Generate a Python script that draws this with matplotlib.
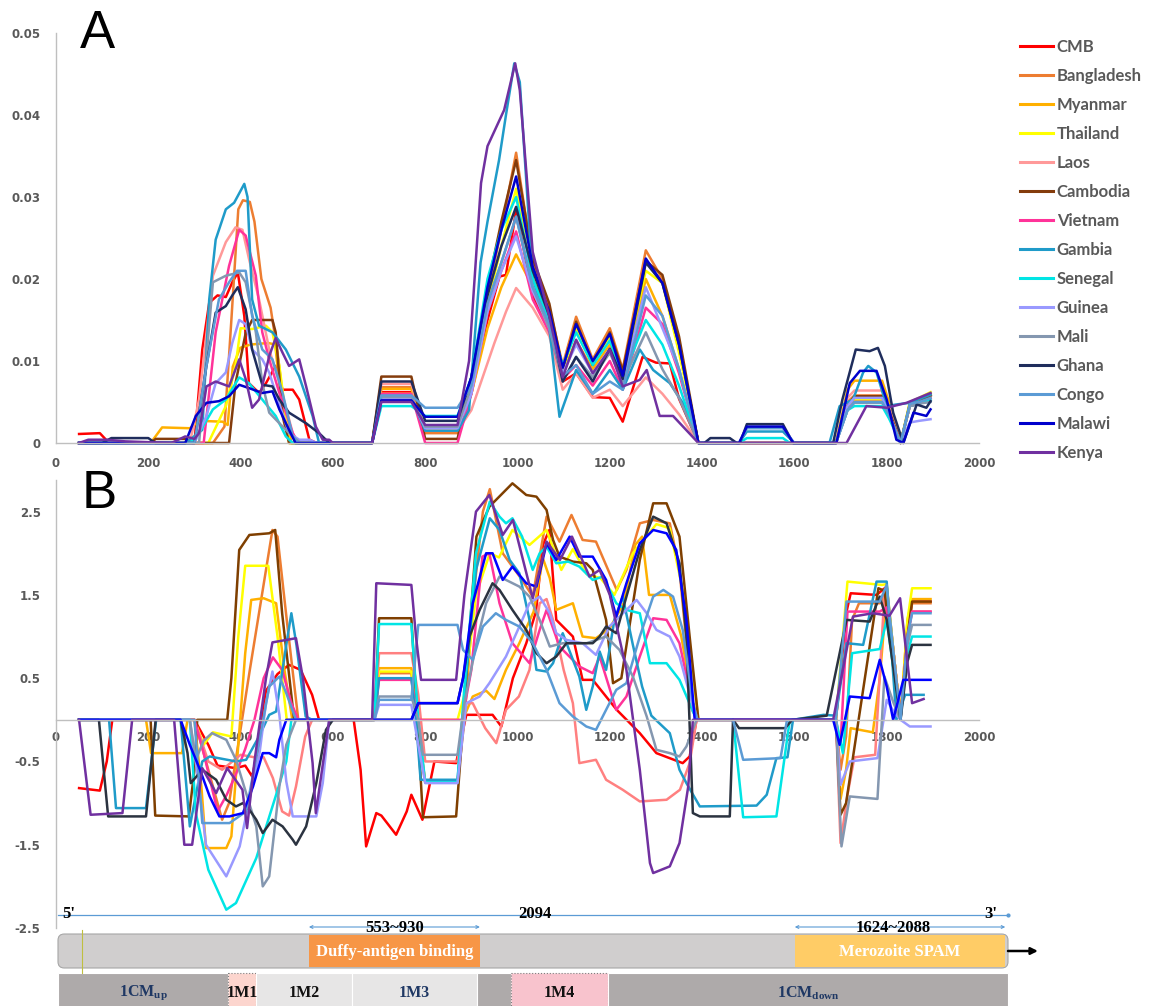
import matplotlib
matplotlib.use('Agg')
import matplotlib.pyplot as plt
from matplotlib.lines import Line2D
from matplotlib.patches import Rectangle, FancyBboxPatch

plt.rcParams['font.family'] = 'DejaVu Sans'
plt.rcParams['mathtext.fontset'] = 'custom'
plt.rcParams['mathtext.rm'] = 'Liberation Serif:bold'
plt.rcParams['mathtext.bf'] = 'Liberation Serif:bold'

# ── populations and colours ───────────────────────────────────────────────
NAMES = ['CMB', 'Bangladesh', 'Myanmar', 'Thailand', 'Laos', 'Cambodia',
         'Vietnam', 'Gambia', 'Senegal', 'Guinea', 'Mali', 'Ghana', 'Congo',
         'Malawi', 'Kenya']
COLORS_A = ['#FF0000', '#ED7D31', '#FFB000', '#FFFF00', '#FF9999', '#843C0C',
            '#FF3399', '#1F9BC9', '#00E5E5', '#9999FF', '#8497B0', '#1F2D5C',
            '#5B9BD5', '#0000CC', '#7030A0']
COLORS_B = ['#FF0000', '#ED7D31', '#FFB000', '#FFFF00', '#FF8080', '#7F3F00',
            '#FF3399', '#1F9BC9', '#00E5E5', '#9999FF', '#8497B0', '#2B3340',
            '#5B9BD5', '#0000FF', '#7030A0']

# ── panel A: (position, value) ────────────────────────────────────────────
A_CMB = [(50,.0011),(95,.0012),(110,.0003),(150,0),(300,0),(317,.0114),(332,.0171),(350,.018),(368,.0178),(382,.0196),(394,.0208),(408,.0155),(418,.0073),(440,.0061),(455,.0073),(476,.0094),(491,.0065),(513,.0065),(527,.0053),(549,.0004),(565,0),(685,0),(705,.0062),(770,.0062),(800,.0016),(870,.0016),(900,.006),(935,.015),(961,.0203),(975,.0205),(997,.0284),(1033,.018),(1069,.014),(1098,.0075),(1127,.0085),(1163,.0056),(1200,.0055),(1228,.0026),(1271,.0105),(1300,.0098),(1330,.0097),(1350,.0054),(1392,0),(1690,0),(1715,.0045),(1730,.0053),(1790,.0053),(1805,.0035),(1830,0),(1850,.0045),(1870,.0048),(1895,.0058)]
A_BANGLADESH = [(50,0),(340,0),(365,.002),(380,.015),(395,.0285),(405,.0296),(420,.0294),(430,.027),(445,.02),(465,.0165),(480,.011),(495,.004),(510,0),(685,0),(705,.0068),(770,.0068),(800,.0012),(870,.0012),(900,.007),(935,.018),(965,.026),(997,.0354),(1033,.022),(1069,.0165),(1098,.0095),(1127,.0154),(1163,.0102),(1200,.014),(1228,.009),(1278,.0235),(1314,.02),(1350,.012),(1392,0),(1690,0),(1715,.005),(1730,.0058),(1790,.0058),(1805,.004),(1830,0),(1850,.0045),(1870,.005),(1895,.0057)]
A_MYANMAR = [(50,0),(205,0),(230,.0019),(290,.0018),(311,.0027),(361,.0026),(372,.0022),(383,.0093),(399,.0116),(421,.012),(460,.0122),(475,.012),(490,.004),(510,0),(685,0),(705,.0066),(770,.0066),(800,.0015),(870,.0015),(900,.006),(935,.014),(965,.019),(997,.023),(1033,.019),(1069,.0145),(1098,.0085),(1127,.0125),(1163,.009),(1200,.012),(1228,.008),(1278,.02),(1314,.0155),(1350,.009),(1392,0),(1690,0),(1715,.0065),(1730,.0076),(1790,.0076),(1805,.005),(1830,0),(1850,.0048),(1870,.0052),(1895,.006)]
A_THAILAND = [(50,0),(330,0),(368,.0045),(389,.0094),(400,.014),(425,.0139),(455,.0143),(469,.0135),(484,.0094),(498,.0033),(505,0),(685,0),(705,.006),(770,.006),(800,.0016),(870,.0016),(900,.007),(935,.017),(965,.024),(997,.031),(1033,.02),(1069,.0155),(1098,.0088),(1127,.014),(1163,.0098),(1200,.013),(1228,.0085),(1278,.021),(1314,.0195),(1350,.011),(1392,0),(1690,0),(1715,.0045),(1730,.0053),(1790,.0053),(1805,.0035),(1830,0),(1850,.005),(1870,.0055),(1895,.0062)]
A_LAOS = [(50,0),(290,0),(310,.0053),(340,.0204),(368,.0245),(389,.0263),(404,.026),(418,.0225),(440,.0175),(462,.0114),(484,.0073),(513,.0012),(525,0),(685,0),(705,.0072),(770,.0072),(800,.0015),(870,.0015),(900,.004),(950,.0122),(975,.016),(997,.0189),(1033,.0165),(1069,.013),(1098,.0065),(1127,.0085),(1163,.0055),(1200,.0065),(1228,.0045),(1278,.008),(1314,.006),(1350,.0035),(1392,0),(1690,0),(1715,.0055),(1730,.0064),(1790,.0064),(1805,.0045),(1830,0),(1850,.0045),(1870,.005),(1895,.0055)]
A_CAMBODIA = [(50,0),(205,0),(216,.0005),(281,.0005),(295,0),(375,0),(389,.0073),(411,.0134),(425,.015),(469,.015),(476,.0135),(491,.0033),(505,0),(685,0),(705,.0081),(770,.0081),(800,.0005),(870,.0005),(900,.008),(935,.019),(965,.027),(997,.0345),(1033,.0225),(1069,.017),(1098,.009),(1127,.0148),(1163,.0095),(1200,.0135),(1228,.0088),(1278,.0222),(1314,.0205),(1350,.013),(1392,0),(1690,0),(1715,.0045),(1730,.0057),(1790,.0057),(1805,.004),(1830,0),(1850,.0047),(1870,.005),(1895,.0058)]
A_VIETNAM = [(50,0),(320,0),(346,.0135),(375,.0216),(397,.026),(411,.0253),(433,.0204),(447,.0135),(462,.0102),(484,.0061),(513,.0012),(525,0),(685,0),(705,.006),(770,.006),(800,0),(870,0),(900,.006),(935,.016),(965,.021),(997,.0258),(1033,.0175),(1069,.0135),(1098,.0078),(1127,.0095),(1163,.007),(1200,.01),(1228,.0065),(1278,.0165),(1314,.0145),(1350,.0085),(1392,0),(1690,0),(1715,.004),(1730,.005),(1790,.005),(1805,.0035),(1830,0),(1850,.0045),(1870,.0048),(1895,.0054)]
A_GAMBIA = [(50,0),(281,0),(317,.0016),(332,.0175),(346,.0248),(368,.0285),(386,.0293),(408,.0316),(415,.03),(425,.0175),(440,.0143),(469,.0135),(498,.0114),(527,.0081),(556,.0033),(570,0),(685,0),(705,.0055),(770,.0055),(800,.0015),(870,.0015),(895,.004),(920,.022),(935,.027),(960,.0345),(975,.04),(993,.0463),(1005,.044),(1033,.02),(1069,.014),(1091,.0032),(1127,.0089),(1163,.006),(1200,.0089),(1228,.0065),(1265,.0114),(1294,.0089),(1330,.0073),(1358,.0049),(1392,0),(1480,0),(1497,.0014),(1575,.0014),(1600,0),(1676,0),(1698,.0045),(1727,.0053),(1749,.0086),(1760,.0094),(1778,.0086),(1800,.0045),(1821,.0047),(1850,.0049),(1895,.0059)]
A_SENEGAL = [(50,0),(290,0),(310,.0012),(340,.0041),(368,.0053),(397,.008),(418,.0073),(447,.0053),(476,.0033),(498,.0008),(513,0),(685,0),(705,.0045),(770,.0045),(800,.0033),(870,.0033),(900,.008),(935,.02),(965,.026),(997,.03),(1033,.02),(1069,.015),(1098,.0095),(1127,.0135),(1163,.0095),(1200,.0125),(1228,.008),(1278,.015),(1314,.012),(1350,.007),(1392,0),(1480,0),(1497,.0006),(1575,.0006),(1590,0),(1690,0),(1715,.004),(1730,.0045),(1790,.0045),(1805,.003),(1830,0),(1850,.0045),(1870,.0048),(1895,.0052)]
A_GUINEA = [(50,0),(300,0),(326,.0033),(346,.0073),(368,.0086),(382,.0122),(397,.015),(411,.0145),(425,.0114),(447,.0102),(462,.0086),(476,.0061),(505,.0012),(527,.0004),(549,.0004),(565,0),(685,0),(705,.0054),(770,.0054),(800,.0018),(870,.0018),(900,.006),(935,.016),(965,.021),(997,.0252),(1033,.0185),(1069,.014),(1098,.0085),(1127,.012),(1163,.0085),(1200,.0115),(1228,.0075),(1278,.019),(1314,.014),(1350,.009),(1392,0),(1690,0),(1715,.0045),(1730,.0055),(1790,.0055),(1805,.0035),(1830,0),(1850,.0025),(1870,.0027),(1895,.0029)]
A_MALI = [(50,0),(310,0),(340,.0196),(368,.0204),(397,.0208),(411,.0196),(433,.0135),(447,.0073),(462,.0037),(491,.002),(513,.0008),(530,0),(685,0),(705,.0056),(770,.0056),(800,.002),(870,.002),(900,.007),(935,.017),(965,.022),(997,.0276),(1033,.019),(1069,.014),(1098,.0075),(1127,.0105),(1163,.008),(1200,.011),(1228,.0075),(1278,.0135),(1314,.009),(1350,.0055),(1392,0),(1690,0),(1715,.004),(1730,.0049),(1790,.0049),(1805,.0035),(1830,0),(1850,.0045),(1870,.0048),(1895,.005)]
A_GHANA = [(50,0),(100,0),(120,.0006),(200,.0006),(215,0),(300,0),(326,.0094),(346,.0159),(368,.0167),(382,.018),(394,.019),(411,.0163),(425,.0114),(447,.0071),(469,.0069),(484,.0053),(505,.0037),(542,.0024),(570,.0012),(592,0),(685,0),(705,.0075),(770,.0075),(800,.0027),(870,.0027),(900,.008),(935,.018),(965,.024),(997,.0288),(1033,.021),(1069,.0155),(1098,.0075),(1127,.0105),(1163,.0075),(1200,.0115),(1228,.0078),(1278,.022),(1314,.0195),(1350,.012),(1392,0),(1405,0),(1418,.0006),(1460,.0006),(1475,0),(1482,0),(1497,.0023),(1575,.0023),(1597,0),(1684,0),(1704,.0053),(1733,.0114),(1763,.0112),(1781,.0116),(1796,.0094),(1814,.0037),(1836,0),(1865,.0047),(1886,.0043),(1895,.0051)]
A_CONGO = [(50,0),(300,0),(326,.0094),(353,.0175),(375,.0196),(392,.021),(411,.021),(425,.0155),(447,.0114),(469,.0102),(491,.0061),(513,.0008),(525,0),(685,0),(705,.0058),(770,.0058),(800,.0043),(870,.0043),(900,.007),(935,.017),(965,.022),(997,.0276),(1033,.019),(1069,.0145),(1098,.0082),(1127,.0095),(1163,.006),(1200,.0075),(1228,.0065),(1278,.018),(1314,.0155),(1350,.009),(1392,0),(1480,0),(1497,.0018),(1575,.0018),(1600,0),(1690,0),(1715,.004),(1730,.005),(1790,.005),(1805,.0035),(1830,0),(1850,.0048),(1870,.005),(1895,.0055)]
A_MALAWI = [(50,0),(280,0),(303,.0033),(326,.0049),(353,.0051),(375,.0057),(397,.0071),(418,.0067),(447,.0061),(469,.0063),(484,.0041),(505,.0016),(519,0),(685,0),(705,.0052),(770,.0052),(800,.0032),(870,.0032),(900,.008),(935,.019),(965,.026),(997,.0325),(1033,.0215),(1069,.016),(1098,.0092),(1127,.0145),(1163,.01),(1200,.0133),(1228,.0082),(1278,.0225),(1314,.0195),(1350,.012),(1392,0),(1480,0),(1497,.002),(1575,.002),(1598,0),(1691,0),(1720,.0073),(1742,.0088),(1778,.0088),(1800,.0053),(1821,.0004),(1836,0),(1858,.0037),(1886,.0033),(1895,.0041)]
A_KENYA = [(50,0),(70,.0004),(110,.0004),(150,.0002),(250,0),(280,.0008),(300,.0005),(310,.0012),(326,.0069),(346,.0075),(375,.0069),(397,.0102),(411,.0078),(425,.0043),(440,.0053),(462,.0106),(476,.0128),(491,.011),(505,.0094),(527,.0102),(542,.0069),(563,.002),(578,.0004),(592,.0004),(600,0),(685,0),(705,.005),(770,.005),(800,.0022),(870,.0022),(895,.01),(921,.0317),(935,.0362),(971,.0406),(995,.0463),(1005,.043),(1033,.0233),(1069,.0154),(1098,.008),(1127,.0126),(1163,.0085),(1200,.0114),(1228,.0069),(1265,.0077),(1280,.0089),(1308,.0033),(1337,.0033),(1392,0),(1713,0),(1756,.0045),(1800,.0043),(1843,.0049),(1895,.0061)]

# ── panel B: (position, value) ────────────────────────────────────────────
B_CMB = [(50,-.82),(95,-.85),(110,-.5),(122,0),(300,0),(330,-.3),(350,-.55),(390,-.58),(410,-.55),(425,-.68),(440,-.3),(455,.35),(480,.55),(505,.66),(530,.6),(555,.3),(570,0),(645,0),(660,-.6),(672,-1.52),(694,-1.12),(705,-1.15),(737,-1.38),(760,-1.1),(770,-.9),(794,-1.2),(820,-.5),(867,-.52),(889,.06),(946,.06),(965,-.08),(990,.5),(1019,.92),(1040,1.3),(1055,2.1),(1069,2.28),(1084,1.2),(1120,1.0),(1141,.48),(1163,.48),(1215,.12),(1265,-.16),(1301,-.4),(1358,-.52),(1373,-.44),(1388,0),(1690,0),(1713,1.3),(1722,1.52),(1778,1.5),(1800,1.6),(1815,.8),(1830,.02),(1845,1.1),(1855,1.42),(1895,1.42)]
B_BANGLADESH = [(50,0),(300,0),(330,-.6),(360,-1.2),(375,-1.0),(420,.6),(469,2.28),(480,2.2),(500,1.2),(525,0),(690,0),(700,.56),(770,.56),(785,-.1),(800,-.75),(870,-.75),(885,0),(905,1.5),(925,2.5),(940,2.77),(968,2.0),(1010,1.68),(1033,1.48),(1063,2.44),(1091,2.14),(1117,2.46),(1141,2.16),(1170,2.14),(1215,1.56),(1236,1.8),(1265,2.36),(1294,2.4),(1330,2.36),(1351,1.8),(1380,.1),(1392,0),(1690,0),(1700,-.6),(1712,-.2),(1725,1.2),(1740,1.4),(1785,1.4),(1800,1.55),(1815,.8),(1830,.02),(1845,1.0),(1855,1.4),(1895,1.4)]
B_MYANMAR = [(50,0),(195,0),(206,-.4),(273,-.4),(285,0),(300,0),(315,-.8),(325,-1.54),(369,-1.54),(380,-1.4),(410,.8),(423,1.44),(450,1.46),(477,1.4),(495,.6),(512,0),(690,0),(700,.62),(770,.62),(785,-.1),(800,-.75),(870,-.75),(885,.05),(903,.28),(932,.35),(950,.25),(975,.6),(1004,.92),(1035,1.3),(1055,1.94),(1070,1.7),(1084,1.32),(1120,1.4),(1141,1.0),(1170,.98),(1200,1.1),(1230,1.4),(1255,2.1),(1270,2.2),(1285,1.5),(1330,1.5),(1355,1.0),(1380,.2),(1392,0),(1690,0),(1700,-.95),(1712,-.6),(1722,-.1),(1770,-.15),(1785,.5),(1800,1.5),(1815,.8),(1830,.02),(1845,1.2),(1855,1.45),(1895,1.45)]
B_THAILAND = [(50,0),(300,0),(320,-.3),(340,-.15),(380,-.2),(395,1.0),(410,1.85),(460,1.85),(480,1.0),(500,0),(690,0),(700,.58),(770,.58),(785,0),(870,0),(885,.3),(910,1.5),(940,2.0),(960,1.95),(989,2.28),(1026,2.1),(1063,2.28),(1095,1.8),(1120,2.05),(1150,1.75),(1180,1.7),(1210,1.5),(1250,2.0),(1301,2.35),(1330,2.3),(1360,1.5),(1392,0),(1690,0),(1715,1.66),(1790,1.62),(1800,1.63),(1815,.8),(1830,.02),(1845,1.2),(1855,1.58),(1895,1.58)]
B_LAOS = [(50,0),(300,0),(330,-.5),(360,-.6),(400,-.42),(430,-.45),(450,-.45),(470,-.7),(490,-1.1),(505,-1.15),(520,-.8),(540,-.2),(555,0),(690,0),(700,.8),(770,.8),(785,.3),(800,-.5),(870,-.5),(889,.2),(903,.2),(930,-.1),(954,-.28),(975,.12),(1003,.28),(1026,.6),(1048,1.4),(1063,1.45),(1077,1.2),(1100,.6),(1120,.2),(1134,-.52),(1170,-.48),(1192,-.72),(1228,-.84),(1265,-.98),(1323,-.96),(1352,-.84),(1373,-.52),(1388,0),(1690,0),(1700,-1.48),(1715,-.9),(1730,-.45),(1775,-.42),(1795,1.5),(1815,.8),(1830,.02),(1845,1.0),(1855,1.3),(1895,1.3)]
B_CAMBODIA = [(50,0),(205,0),(215,-1.15),(288,-1.16),(300,-.6),(306,0),(371,0),(380,.5),(397,2.04),(419,2.22),(462,2.24),(475,2.28),(490,1.28),(516,0),(690,0),(700,1.22),(770,1.22),(780,.3),(795,-1.17),(867,-1.16),(880,-.2),(911,2.2),(939,2.56),(989,2.84),(1019,2.7),(1041,2.68),(1063,2.52),(1077,2.16),(1091,1.96),(1120,1.9),(1149,1.88),(1163,1.8),(1192,1.2),(1207,.44),(1225,.5),(1265,1.92),(1294,2.6),(1323,2.6),(1351,2.2),(1373,1.0),(1392,0),(1690,0),(1700,-1.14),(1712,-1.0),(1782,1.58),(1795,1.55),(1815,.7),(1830,.02),(1845,1.0),(1855,1.42),(1895,1.42)]
B_VIETNAM = [(50,0),(300,0),(320,-.4),(350,-1.1),(370,-.9),(390,-.65),(410,-.35),(430,0),(450,.5),(470,.75),(490,.6),(510,.2),(525,0),(690,0),(700,.48),(770,.48),(785,0),(880,0),(900,.6),(924,1.96),(939,2.0),(961,1.4),(989,.92),(1026,.68),(1048,1.08),(1063,1.32),(1091,.88),(1134,.64),(1163,.56),(1178,.76),(1214,.12),(1236,.28),(1265,.76),(1294,1.22),(1323,1.2),(1351,.92),(1375,.3),(1390,0),(1690,0),(1700,-.3),(1715,1.3),(1785,1.3),(1800,1.35),(1815,.6),(1830,.02),(1845,1.0),(1855,1.3),(1895,1.3)]
B_GAMBIA = [(50,0),(115,0),(130,-1.06),(195,-1.06),(217,0),(270,0),(290,-1.28),(317,-.5),(333,-.44),(390,-.5),(412,-.48),(440,-.2),(462,.06),(477,.1),(499,.9),(510,1.28),(521,.9),(541,.04),(555,0),(690,0),(700,.5),(770,.5),(780,0),(790,-.72),(870,-.72),(885,.3),(910,1.8),(940,2.42),(961,2.28),(983,1.92),(1004,1.76),(1026,1.2),(1041,.6),(1063,.58),(1077,.68),(1098,1.04),(1134,.52),(1149,.12),(1163,.4),(1178,.82),(1192,.6),(1210,1.2),(1228,1.48),(1250,.9),(1270,.4),(1290,.05),(1330,-.16),(1351,-.6),(1366,-.76),(1395,-1.04),(1518,-1.03),(1540,-.9),(1561,-.46),(1585,-.45),(1597,0),(1663,.06),(1690,.05),(1713,.92),(1749,.9),(1778,1.66),(1800,1.66),(1821,0),(1840,.3),(1880,.3)]
B_SENEGAL = [(50,0),(290,0),(303,-1.12),(330,-1.8),(369,-2.28),(390,-2.2),(434,-1.66),(477,-.9),(499,-.5),(510,0),(690,0),(700,1.15),(770,1.15),(785,0),(800,-.75),(870,-.75),(885,.4),(910,2.0),(940,2.62),(961,2.44),(975,2.36),(989,2.42),(1010,2.2),(1033,1.8),(1048,2.0),(1063,2.08),(1084,1.88),(1110,1.9),(1134,1.84),(1163,1.68),(1185,1.72),(1214,1.4),(1236,1.32),(1265,1.28),(1287,.68),(1323,.68),(1351,.48),(1388,0),(1467,0),(1489,-1.17),(1561,-1.16),(1575,-.6),(1590,0),(1690,0),(1705,-.4),(1725,.8),(1785,.85),(1800,1.2),(1815,.6),(1830,.02),(1845,.8),(1855,1.0),(1895,1.0)]
B_GUINEA = [(50,0),(290,0),(310,-.8),(325,-1.5),(369,-1.88),(398,-1.52),(419,-.96),(441,-.4),(455,.2),(469,.58),(484,.06),(499,-.74),(513,-1.16),(564,-1.16),(578,-.76),(592,0),(690,0),(700,.18),(770,.18),(785,-.3),(800,-.76),(870,-.76),(889,.2),(918,.28),(939,.44),(975,.76),(1004,1.12),(1026,1.4),(1048,1.48),(1070,1.28),(1084,1.04),(1106,.96),(1141,.92),(1170,.78),(1199,1.12),(1236,1.32),(1258,1.44),(1280,1.28),(1301,1.08),(1330,1.0),(1351,.76),(1388,0),(1690,0),(1700,-.78),(1720,-.5),(1780,-.46),(1800,.24),(1815,.1),(1830,0),(1850,-.08),(1895,-.08)]
B_MALI = [(50,0),(290,0),(303,-.48),(320,-.25),(338,-.16),(369,-.24),(390,-.48),(412,-.88),(434,-1.28),(448,-2.0),(462,-1.88),(484,-.8),(499,-.3),(520,0),(690,0),(700,.28),(770,.28),(785,0),(795,-.42),(870,-.42),(885,.2),(911,.92),(932,1.4),(961,1.72),(975,1.68),(1004,1.6),(1026,1.48),(1048,1.2),(1070,.88),(1098,.92),(1150,.92),(1192,1.0),(1221,.84),(1250,.52),(1280,.04),(1301,-.36),(1330,-.4),(1351,-.44),(1366,-.32),(1388,0),(1690,0),(1702,-1.52),(1720,-.92),(1780,-.95),(1795,.52),(1815,.2),(1830,0),(1845,.9),(1855,1.14),(1895,1.14)]
B_GHANA = [(50,0),(93,0),(113,-1.16),(195,-1.16),(216,0),(270,0),(285,-.4),(292,-.76),(317,-.6),(347,-.72),(369,-.96),(390,-1.04),(405,-1.0),(419,-1.08),(434,-1.2),(448,-1.36),(469,-1.2),(491,-1.28),(513,-1.44),(520,-1.5),(542,-1.28),(564,-.76),(585,-.12),(600,0),(770,0),(785,.2),(870,.2),(882,.5),(896,1.0),(918,1.32),(946,1.64),(961,1.56),(989,1.32),(1019,1.08),(1041,.8),(1063,.68),(1084,.76),(1106,.92),(1163,.92),(1178,1.0),(1192,1.12),(1214,1.04),(1236,1.48),(1265,2.04),(1294,2.44),(1323,2.36),(1351,1.88),(1366,1.0),(1380,-1.12),(1395,-1.16),(1460,-1.16),(1467,0),(1480,-.1),(1580,-.1),(1595,0),(1670,.05),(1713,1.2),(1763,1.18),(1785,1.48),(1800,1.2),(1830,0),(1845,.7),(1855,.9),(1895,.9)]
B_CONGO = [(50,0),(300,0),(317,-1.24),(376,-1.24),(412,-1.1),(441,-.24),(462,.4),(484,.52),(499,.32),(520,0),(690,0),(700,.24),(770,.24),(785,1.14),(870,1.14),(882,.84),(903,.72),(925,1.12),(953,1.28),(975,1.2),(1004,1.12),(1033,.92),(1063,.6),(1091,.2),(1120,.04),(1149,-.08),(1170,-.12),(1192,.12),(1214,.36),(1236,.44),(1265,1.0),(1294,1.48),(1316,1.56),(1337,1.48),(1358,1.08),(1380,.2),(1390,0),(1467,0),(1489,-.48),(1570,-.46),(1584,0),(1690,0),(1713,1.42),(1785,1.42),(1800,1.62),(1815,.8),(1830,0),(1845,1.0),(1855,1.28),(1895,1.28)]
B_MALAWI = [(50,0),(270,0),(290,-.3),(312,-.6),(333,-.92),(354,-1.16),(376,-1.16),(405,-1.12),(427,-.8),(448,-.4),(462,-.4),(477,-.45),(484,-.24),(499,0),(770,0),(785,.2),(870,.2),(882,.5),(903,1.4),(932,2.0),(946,2.0),(968,1.68),(989,1.84),(1019,1.64),(1041,1.6),(1063,2.12),(1084,1.92),(1113,2.2),(1134,1.96),(1163,1.96),(1192,1.68),(1214,1.24),(1236,1.64),(1265,2.12),(1294,2.28),(1323,2.24),(1344,2.04),(1366,1.2),(1384,0),(1684,0),(1698,-.3),(1720,.28),(1763,.26),(1785,.72),(1800,.4),(1814,0),(1836,.48),(1895,.48)]
B_KENYA = [(50,0),(75,-1.14),(144,-1.12),(165,0),(256,0),(278,-1.5),(295,-1.5),(317,-.58),(347,-.88),(371,-.58),(404,-.84),(414,-1.3),(430,-.5),(455,.5),(469,.93),(520,.98),(535,.5),(556,-.52),(563,-1.12),(592,0),(685,0),(694,1.64),(770,1.62),(780,1.0),(791,.48),(867,.48),(885,1.5),(910,2.5),(939,2.7),(968,2.22),(990,2.4),(1033,1.46),(1063,2.14),(1092,1.92),(1118,2.2),(1156,1.72),(1178,1.8),(1200,1.5),(1236,.6),(1265,-.6),(1287,-1.72),(1294,-1.84),(1330,-1.76),(1351,-1.48),(1370,-.8),(1380,0),(1684,0),(1727,1.24),(1770,1.28),(1806,1.25),(1829,1.46),(1855,.2),(1880,.25)]

SERIES_A = [A_CMB, A_BANGLADESH, A_MYANMAR, A_THAILAND, A_LAOS, A_CAMBODIA,
            A_VIETNAM, A_GAMBIA, A_SENEGAL, A_GUINEA, A_MALI, A_GHANA,
            A_CONGO, A_MALAWI, A_KENYA]
SERIES_B = [B_CMB, B_BANGLADESH, B_MYANMAR, B_THAILAND, B_LAOS, B_CAMBODIA,
            B_VIETNAM, B_GAMBIA, B_SENEGAL, B_GUINEA, B_MALI, B_GHANA,
            B_CONGO, B_MALAWI, B_KENYA]

A_YTICKS = [0, 0.01, 0.02, 0.03, 0.04, 0.05]
A_YLABELS = ['0', '0.01', '0.02', '0.03', '0.04', '0.05']
B_YTICKS = [-2.5, -1.5, -0.5, 0.5, 1.5, 2.5]
B_YLABELS = ['-2.5', '-1.5', '-0.5', '0.5', '1.5', '2.5']
XTICKS = list(range(0, 2001, 200))

# gene map (nucleotide positions)
GENE_LEN = 2094
DOMAINS = [('Duffy-antigen binding', 553, 930, '#F79646', '553~930'),
           ('Merozoite SPAM', 1624, 2088, '#FFCC66', '1624~2088')]
REGIONS = [(r'1CM$_{\mathrm{up}}$', 0, 375, '#AEAAAA', '#1F3864', False),
           ('1M1', 375, 437, '#FCD5CE', '#111111', True),
           ('1M2', 437, 648, '#E7E6E6', '#111111', False),
           ('1M3', 648, 924, '#E7E6E6', '#1F3864', False),
           ('', 924, 999, '#AEAAAA', '#1F3864', False),
           ('1M4', 999, 1213, '#F8C3CD', '#111111', True),
           (r'1CM$_{\mathrm{down}}$', 1213, 2094, '#AEAAAA', '#1F3864', False)]

TICK_C = '#595959'
AXIS_C = '#BFBFBF'
W, H = 1150, 1006

fig = plt.figure(figsize=(W / 100, H / 100), dpi=100)

ax_a = fig.add_axes([56 / W, 1 - 443 / H, 923 / W, 410 / H])
ax_b = fig.add_axes([56 / W, 1 - 928 / H, 923 / W, 448 / H])

# ── Panel A ──
for pts, name, c in zip(SERIES_A, NAMES, COLORS_A):
    x, y = zip(*pts)
    ax_a.plot(x, y, color=c, lw=1.8, label=name, clip_on=False,
              solid_joinstyle='round')
ax_a.set_xlim(0, 2000)
ax_a.set_ylim(0, 0.05)
ax_a.set_yticks(A_YTICKS, A_YLABELS)
ax_a.set_xticks(XTICKS)

# ── Panel B ──
for pts, c in zip(SERIES_B, COLORS_B):
    x, y = zip(*pts)
    ax_b.plot(x, y, color=c, lw=1.8, solid_joinstyle='round')
ax_b.set_xlim(0, 2000)
ax_b.set_ylim(-2.5, 2.88)
ax_b.set_yticks(B_YTICKS, B_YLABELS)
ax_b.set_xticks(XTICKS)
ax_b.spines['bottom'].set_position(('data', 0))

for ax in (ax_a, ax_b):
    ax.set_facecolor('none')
    for s in ('top', 'right'):
        ax.spines[s].set_visible(False)
    for s in ('left', 'bottom'):
        ax.spines[s].set_color(AXIS_C)
        ax.spines[s].set_linewidth(1.0)
    ax.tick_params(length=0, labelcolor=TICK_C, labelsize=8.5)
    ax.tick_params(axis='y', pad=11)
    ax.tick_params(axis='x', pad=10)
    for lab in ax.get_xticklabels() + ax.get_yticklabels():
        lab.set_fontweight('bold')
ax_b.tick_params(axis='x', pad=8)

fig.text(97 / W, 1 - 34 / H, 'A', fontsize=38, family='Liberation Sans',
         ha='center', va='center')
fig.text(99 / W, 1 - 494 / H, 'B', fontsize=38, family='Liberation Sans',
         ha='center', va='center')

handles = [Line2D([], [], color=c, lw=2.2) for c in COLORS_A]
leg = fig.legend(handles, NAMES, loc='upper left',
                 bbox_to_anchor=(1020 / W, 1 - 39 / H), frameon=False,
                 prop={'family': 'Lato', 'weight': 'bold', 'size': 12},
                 handlelength=1.95, handletextpad=0.25, labelspacing=0.78,
                 borderaxespad=0, borderpad=0)
for t in leg.get_texts():
    t.set_color(TICK_C)

# ── gene map ──
ax_g = fig.add_axes([58 / W, 0, 950 / W, 106 / H])
ax_g.set_xlim(0, GENE_LEN)
ax_g.set_ylim(106, 0)
ax_g.axis('off')
serif = {'family': 'Liberation Serif', 'weight': 'bold'}

ax_g.plot([0, GENE_LEN], [15, 15], color='#5B9BD5', lw=0.9, clip_on=False)
ax_g.plot([GENE_LEN], [15], 'o', color='#5B9BD5', ms=2, clip_on=False)
ax_g.text(24, 14, "5'", fontsize=12, ha='center', va='center', **serif)
ax_g.text(1052, 14, '2094', fontsize=12, ha='center', va='center', **serif)
ax_g.text(2057, 14, "3'", fontsize=12, ha='center', va='center', **serif)

ax_g.add_patch(FancyBboxPatch((0, 34), GENE_LEN, 34,
                              boxstyle='round,pad=0,rounding_size=14',
                              mutation_aspect=0.45, fc='#D0CECE',
                              ec='#A6A6A6', lw=0.8, clip_on=False))
ax_g.plot([53, 53], [30, 73], color='#BFBF40', lw=0.8, clip_on=False)

for label, s, e, col, rng in DOMAINS:
    ax_g.add_patch(Rectangle((s, 35), e - s, 32, fc=col, ec='none',
                             clip_on=False))
    ax_g.text((s + e) / 2, 51.5, label, color='white', fontsize=12,
              ha='center', va='center', **serif)
    ax_g.annotate('', xy=(s, 27), xytext=(e, 27),
                  arrowprops=dict(arrowstyle='<->', color='#5B9BD5', lw=0.8,
                                  mutation_scale=5, shrinkA=0, shrinkB=0))
    ax_g.text((s + e) / 2 + (0 if s < 1000 else -15), 27.5, rng, fontsize=12,
              ha='center', va='center', **serif)

ax_g.annotate('', xy=(GENE_LEN + 66, 51), xytext=(GENE_LEN, 51),
              arrowprops=dict(arrowstyle='-|>', color='black', lw=1.8,
                              mutation_scale=10, shrinkA=0, shrinkB=0),
              annotation_clip=False)

for label, s, e, fc, tc, dotted in REGIONS:
    ax_g.add_patch(Rectangle((s, 73), e - s, 40, fc=fc,
                             ec='#7F7F7F' if dotted else 'white',
                             lw=0.8, ls=':' if dotted else '-',
                             clip_on=False))
    if label:
        ax_g.text((s + e) / 2, 93, label, color=tc, fontsize=11.5,
                  ha='center', va='center', **serif)

fig.savefig('out.png', dpi=100)
